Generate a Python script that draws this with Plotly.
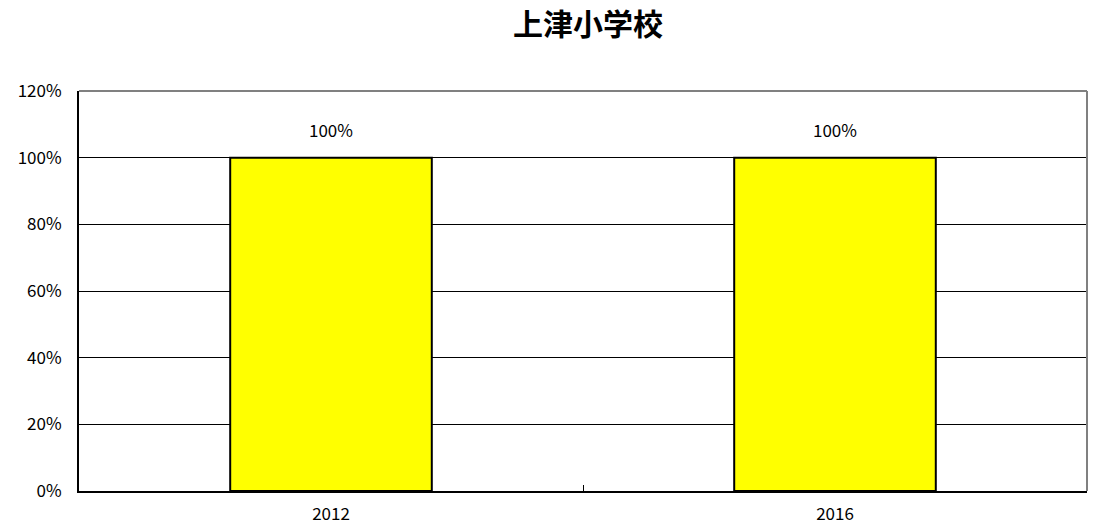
import plotly.graph_objects as go

years = ["2012", "2016"]
rates = [1.00, 1.00]
y_ticks = [0, 0.2, 0.4, 0.6, 0.8, 1.0, 1.2]
y_tick_labels = ["0%", "20%", "40%", "60%", "80%", "100%", "120%"]
title_text = "上津小学校"

font_family = "Noto Sans CJK JP, Liberation Sans, sans-serif"

fig = go.Figure()
fig.add_trace(go.Bar(
    x=years,
    y=rates,
    marker=dict(color="#FFFF00", line=dict(color="#000000", width=2)),
    width=0.4,
))

# value labels above each bar (category index positions)
for i, v in enumerate(rates):
    fig.add_annotation(
        x=i, y=v, xref="x", yref="y",
        text=f"{v:.0%}",
        showarrow=False,
        yanchor="bottom",
        yshift=14,
        font=dict(size=17, color="#000000", family=font_family),
    )

fig.update_layout(
    width=1097,
    height=527,
    margin=dict(l=79, r=10, t=91, b=36),
    paper_bgcolor="#FFFFFF",
    plot_bgcolor="#FFFFFF",
    showlegend=False,
    title=dict(
        text=f"<b>{title_text}</b>",
        x=588 / 1097,
        xanchor="center",
        y=1 - 24 / 527,
        yanchor="middle",
        font=dict(size=30, color="#000000", family=font_family),
    ),
    font=dict(family=font_family, size=17, color="#000000"),
    xaxis=dict(
        type="category",
        range=[-0.5, 1.5],
        automargin=False,
        showline=True,
        linecolor="#000000",
        linewidth=2,
        ticks="inside",
        tickson="boundaries",
        ticklen=6,
        tickcolor="#000000",
        showgrid=False,
        tickangle=0,
        tickfont=dict(size=17),
        ticklabelstandoff=7,
    ),
    yaxis=dict(
        range=[0, 1.2],
        automargin=False,
        tickvals=y_ticks,
        ticktext=y_tick_labels,
        showline=True,
        linecolor="#000000",
        linewidth=2,
        ticks="inside",
        ticklen=4,
        tickcolor="#000000",
        showgrid=True,
        gridcolor="#000000",
        gridwidth=1,
        zeroline=False,
        tickfont=dict(size=17),
        ticklabelstandoff=12,
    ),
    shapes=[
        dict(type="line", xref="paper", yref="paper", x0=0, x1=1, y0=1, y1=1,
             line=dict(color="#808080", width=2)),
        dict(type="line", xref="paper", yref="paper", x0=1, x1=1, y0=0, y1=1,
             line=dict(color="#808080", width=2)),
    ],
)

fig.write_html("out.html")
